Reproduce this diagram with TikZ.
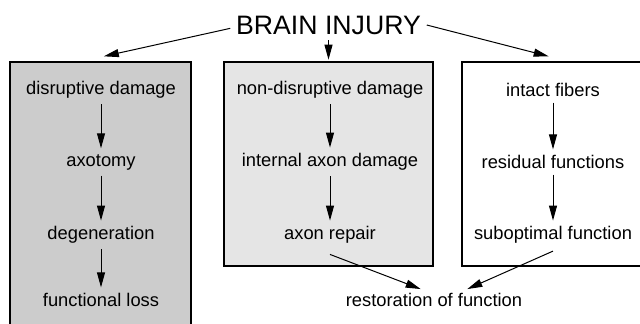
\documentclass[tikz,border=0pt]{standalone}
\usepackage{fontspec}
\setmainfont{Liberation Sans}
\usetikzlibrary{arrows.meta}
\begin{document}
\begin{tikzpicture}[x=0.6pt, y=-0.6pt, font=\fontsize{11}{13}\selectfont,
    panel/.style={draw, line width=0.8pt, inner sep=0pt},
    arr/.style={-{Triangle[length=9pt,width=4.8pt]}, line width=0.6pt}]
  \useasboundingbox (0,0) rectangle (640,323);
  \clip (0,0) rectangle (640,323);
  % the three panels, the outer two run past the edge of the page
  \node[panel, fill=gray!40, minimum width=181*0.6pt, minimum height=290*0.6pt] (box1) at (100.5,207) {};
  \node[panel, fill=gray!20, minimum width=209*0.6pt, minimum height=204*0.6pt] (box2) at (328.5,164) {};
  \node[panel, fill=white, minimum width=200*0.6pt, minimum height=204*0.6pt] (box3) at (562,164) {};

  \node[font=\fontsize{16}{19}\selectfont] (injury) at (328.5,25) {BRAIN INJURY};

  \node (disrupt) at (101,90) {disruptive damage};
  \node (axotomy) at (101,162) {axotomy};
  \node (degen) at (101,235) {degeneration};
  \node (loss) at (101,300) {functional loss};

  \node (nondisrupt) at (330,90) {non-disruptive damage};
  \node (internal) at (330,162) {internal axon damage};
  \node (repair) at (330,235) {axon repair};

  \node (intact) at (553,90) {intact fibers};
  \node (residual) at (553,162) {residual functions};
  \node (subopt) at (553,235) {suboptimal function};

  \node (restore) at (434,300) {restoration of function};

  \draw[arr] ([yshift=-2pt]injury.west) -- ([xshift=2pt,yshift=3pt]box1.north);
  \draw[arr] (injury.south) -- ([yshift=1pt]box2.north);
  \draw[arr] (injury.east) -- ([xshift=-8pt,yshift=3pt]box3.north);

  \draw[arr] (disrupt) -- (axotomy);
  \draw[arr] (axotomy) -- (degen);
  \draw[arr] (degen) -- (loss);
  \draw[arr] (nondisrupt) -- (internal);
  \draw[arr] (internal) -- (repair);
  \draw[arr] (intact) -- (residual);
  \draw[arr] (residual) -- (subopt);

  \draw[arr] ([yshift=-3pt]repair.south) -- ([xshift=-8pt,yshift=-1pt]restore.north);
  \draw[arr] ([yshift=-1pt]subopt.south) -- ([xshift=20pt,yshift=-1pt]restore.north);
\end{tikzpicture}
\end{document}
